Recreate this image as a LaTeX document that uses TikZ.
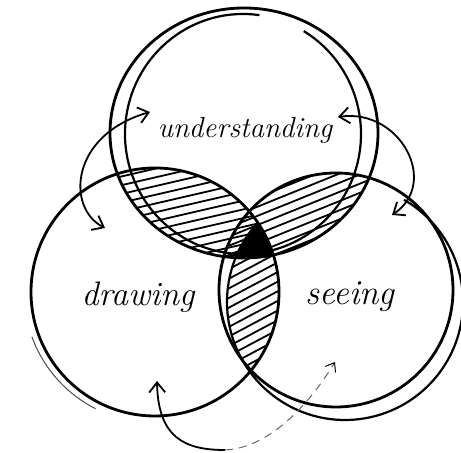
\documentclass[tikz,border=0pt]{standalone}
\usetikzlibrary{arrows.meta,calc}
\begin{document}
\begin{tikzpicture}[x=0.5pt,y=0.5pt,
  ring/.style={line width=1.4pt},
  ring2/.style={line width=1.1pt},
  faint/.style={line width=0.5pt, black!70},
  hatch/.style={line width=0.9pt},
  barb/.tip={Straight Barb[length=5pt,width=8pt]},
  curvearrow/.style={line width=0.9pt, barb-barb},
  lbl/.style={inner sep=0pt}
]
\useasboundingbox (0,0) rectangle (461,453);
\fill[white] (0,0) rectangle (461,453);

\coordinate (cA) at (244,320);
\coordinate (cAi) at (243,319);
\coordinate (cB) at (155,161);
\coordinate (cC) at (336,163);
\coordinate (cCo) at (345,151);

% hatch: understanding & drawing
\begin{scope}
  \clip (cA) ellipse [x radius=134, y radius=125];
  \clip (cB) circle [radius=124];
  \begin{scope}[rotate around={13:(190,240)}]
    \foreach \k in {-14,...,14} \draw[hatch] (20,240+\k*8.5) -- (400,240+\k*8.5);
  \end{scope}
\end{scope}
% hatch: understanding & seeing
\begin{scope}
  \clip (cA) ellipse [x radius=134, y radius=125];
  \clip (cC) circle [radius=117];
  \begin{scope}[rotate around={22:(310,240)}]
    \foreach \k in {-14,...,14} \draw[hatch] (100,240+\k*8.5) -- (500,240+\k*8.5);
  \end{scope}
\end{scope}
% hatch: drawing & seeing
\begin{scope}
  \clip (cB) circle [radius=124];
  \clip (cCo) circle [radius=118];
  \begin{scope}[rotate around={28:(255,140)}]
    \foreach \k in {-16,...,16} \draw[hatch] (40,140+\k*8.5) -- (470,140+\k*8.5);
  \end{scope}
\end{scope}
% centre: all three
\begin{scope}
  \clip (cA) ellipse [x radius=134, y radius=125];
  \clip (cB) circle [radius=124];
  \fill (cCo) circle [radius=118];
\end{scope}

% circles
\draw[ring] (cA) ellipse [x radius=134, y radius=125];
\draw[ring2] (cAi) ++(82:118 and 120) arc [start angle=82, end angle=419, x radius=118, y radius=120];
\draw[ring] (cB) circle [radius=124];
\draw[faint] (cB) ++(200:131) arc [start angle=200, end angle=243, radius=131];
\draw[ring] (cC) circle [radius=117];
\draw[ring2] (cCo) ++(60:118) arc [start angle=60, end angle=-220, radius=118];

% labels
\node[lbl, font=\fontsize{14.5}{17}\selectfont\itshape] (und) at (245,323) {understanding};
\node[lbl, font=\fontsize{17}{20}\selectfont\itshape] (drw) at (138,156) {drawing};
\node[lbl, font=\fontsize{17.5}{20}\selectfont\itshape] (see) at (350,156) {seeing};

% arrows
\coordinate (a1s) at (150,341);
\coordinate (a1e) at (105,225);
\coordinate (a2s) at (338,336);
\coordinate (a2e) at (392,238);
\coordinate (a3s) at (157,72);
\coordinate (a3m) at (225,3);
\coordinate (a3e) at (335,91);
\draw[curvearrow] (a1s) .. controls (70,318) and (66,245) .. (a1e);
\draw[curvearrow] (a2s) .. controls (400,345) and (440,270) .. (a2e);
\draw[line width=0.9pt, barb-] (a3s) .. controls (158,15) and (185,3) .. (a3m);
\draw[line width=0.5pt, black!60, dash pattern=on 4pt off 3pt, -{Straight Barb[length=4pt,width=6pt,black]}] (a3m) .. controls (270,5) and (310,50) .. (a3e);
\end{tikzpicture}
\end{document}
